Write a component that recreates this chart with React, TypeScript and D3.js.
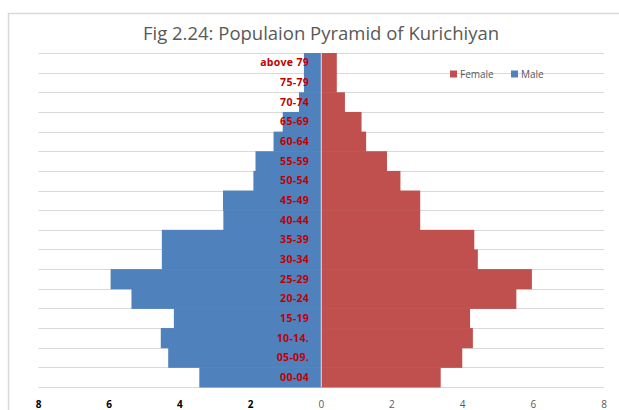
import React from "react";
import * as d3 from "d3";

const categories = ["00-04", "05-09.", "10-14.", "15-19", "20-24", "25-29", "30-34", "35-39", "40-44", "45-49", "50-54", "55-59", "60-64", "65-69", "70-74", "75-79", "above 79"];
const male = [3.45, 4.33, 4.54, 4.17, 5.37, 5.96, 4.51, 4.51, 2.77, 2.78, 1.92, 1.86, 1.35, 1.09, 0.63, 0.49, 0.49];
const female = [3.38, 3.99, 4.29, 4.21, 5.52, 5.96, 4.43, 4.33, 2.8, 2.8, 2.24, 1.86, 1.27, 1.14, 0.67, 0.44, 0.44];
const ticks = [-8, -6, -4, -2, 0, 2, 4, 6, 8];
const title = "Fig 2.24: Populaion Pyramid of Kurichiyan";

const W = 619, H = 410;
const BLUE = "#4F81BD", RED = "#C0504D";

export default function App() {
  const x = d3.scaleLinear().domain([-8, 8]).range([38.5, 604]);
  const y = d3.scaleBand().domain([...categories].reverse()).range([53, 387]).padding(0);
  const bw = y.bandwidth();
  const gridYs = d3.range(categories.length + 1).map((i) => 53 + i * bw);
  const x0 = x(0);
  const font = "'Open Sans', 'Liberation Sans', sans-serif";
  return (
    <svg width={W} height={H} style={{ position: "absolute", left: 0, top: 0 }} fontFamily={font}>
      <rect x={0} y={0} width={W} height={H} fill="#fff" />
      <rect x={8.5} y={13.5} width={W + 20} height={H + 20} fill="#fff" stroke="#d9d9d9" strokeWidth={1.5} />
      <text x={321} y={40} textAnchor="middle" fontSize={18.5} fill="#595959">{title}</text>
      {gridYs.map((gy, i) => (
        <line key={i} x1={38.5} x2={604} y1={Math.round(gy) + 0.5} y2={Math.round(gy) + 0.5} stroke="#d9d9d9" strokeWidth={1} />
      ))}
      {categories.map((c, i) => (
        <g key={c}>
          <rect x={x(-male[i])} y={y(c)!} width={x0 - x(-male[i])} height={bw + 0.5} fill={BLUE} />
          <rect x={x0} y={y(c)!} width={x(female[i]) - x0} height={bw + 0.5} fill={RED} />
        </g>
      ))}
      <line x1={x0} x2={x0} y1={53} y2={387} stroke="#d9d9d9" strokeWidth={1} />
      {categories.map((c) => (
        <text key={c} x={309} y={y(c)! + bw / 2} dy="0.35em" textAnchor="end" fontSize={10.5} fontWeight="bold" letterSpacing={0.3} fill="#C00000">{c}</text>
      ))}
      {ticks.map((t) => (
        <text key={t} x={x(t)} y={408} textAnchor="middle" fontSize={10}
          fontWeight={t < 0 ? "bold" : "normal"} fill={t < 0 ? "#000" : "#595959"}>{Math.abs(t)}</text>
      ))}
      <g fontSize={10} fill="#595959">
        <rect x={450} y={70.5} width={7} height={7} fill={RED} />
        <text x={460} y={74} dy="0.35em">Female</text>
        <rect x={511} y={70.5} width={7} height={7} fill={BLUE} />
        <text x={521} y={74} dy="0.35em">Male</text>
      </g>
    </svg>
  );
}
